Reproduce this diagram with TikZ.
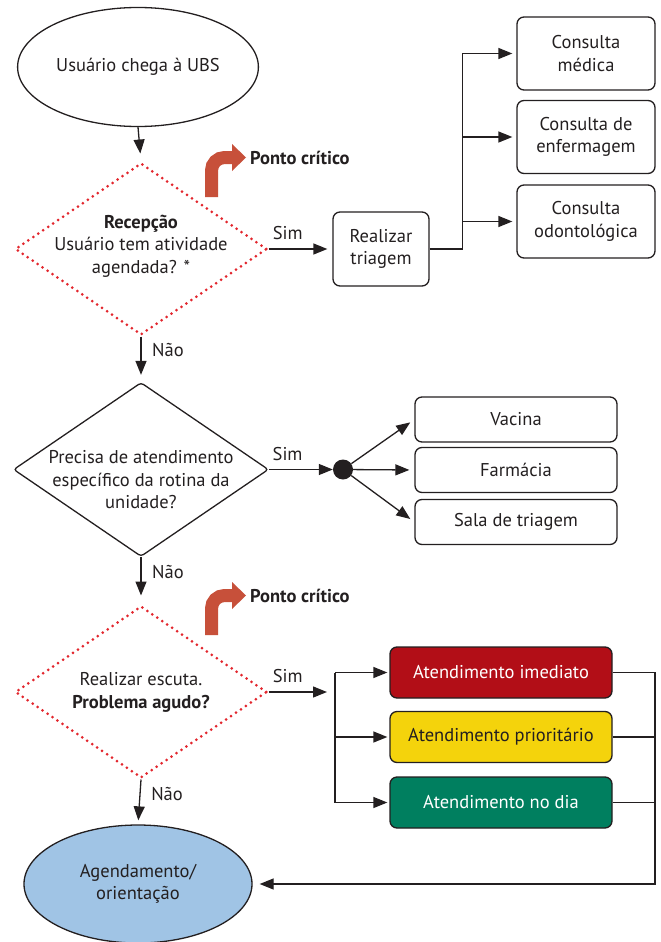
\documentclass[tikz,border=0pt]{standalone}
\usepackage{fontspec}
\setmainfont{PT Sans}
\usetikzlibrary{shapes.geometric,arrows.meta,calc}
\definecolor{ink}{RGB}{35,31,32}
\definecolor{dotred}{RGB}{226,38,45}
\definecolor{brick}{RGB}{199,80,58}
\definecolor{boxred}{RGB}{178,14,23}
\definecolor{boxyellow}{RGB}{244,211,12}
\definecolor{boxgreen}{RGB}{0,127,95}
\definecolor{endblue}{RGB}{160,196,229}
\begin{document}
\begin{tikzpicture}[x=1pt,y=-1pt,
  every node/.style={font=\fontsize{18.5}{22.5}\selectfont, text=ink},
  conn/.style={line width=1.3pt, draw=ink},
  arr/.style={conn, -{Triangle[length=14pt,width=11pt]}},
  box/.style={draw=ink, line width=1.3pt, rounded corners=7pt, align=center, inner sep=0pt},
  critdiam/.style={diamond, draw=dotred, line width=3pt, dash pattern=on 0pt off 6pt, line cap=round, minimum width=252pt, minimum height=172pt, inner sep=0pt},
  lbl/.style={inner sep=0pt},
  crit/.style={font=\bfseries\fontsize{18.5}{22.5}\selectfont, anchor=west, inner sep=0pt}
]
\useasboundingbox (0,0) rectangle (661,942);

% start
\node[ellipse, draw=ink, line width=1.3pt, minimum width=228pt, minimum height=119pt] (start) at (138,67) {Usuário chega à UBS};

% diamond 1
\node[critdiam] (d1) at (141,249) {};
\node[align=center, inner sep=0pt] (t1) at (141,246) {\textbf{Recepção}\\Usuário tem atividade\\agendada? *};

\node[box, minimum width=96pt, minimum height=74pt] (tri) at (381,249) {Realizar\\triagem};
\node[box, minimum width=138pt, minimum height=73pt] (cm) at (586,53.5) {Consulta\\médica};
\node[box, minimum width=138pt, minimum height=73pt] (ce) at (586,137) {Consulta de\\enfermagem};
\node[box, minimum width=138pt, minimum height=73pt] (co) at (586,221.5) {Consulta\\odontológica};

% ponto critico 1
\fill[brick] (232,144) -- (246,157.5) -- (232,171) -- cycle;
\draw[brick, line width=13pt, rounded corners=13pt] (211.5,197) |- (233,157.5);
\node[crit] (pc1) at (250,157.5) {Ponto crítico};

% diamond 2
\node[diamond, draw=ink, line width=1.3pt, minimum width=255pt, minimum height=174pt, inner sep=0pt, rounded corners=3pt] (d2) at (141,469.5) {};
\node[align=center, inner sep=0pt] (t2) at (141,480) {Precisa de atendimento\\específico da rotina da\\unidade?};

\node[circle, fill=ink, minimum size=20pt, inner sep=0pt] (dot) at (343,469.5) {};
\node[box, minimum width=202pt, minimum height=45pt] (vac) at (516,419.5) {Vacina};
\node[box, minimum width=202pt, minimum height=45pt] (far) at (516,470) {Farmácia};
\node[box, minimum width=202pt, minimum height=45pt] (sala) at (516,522) {Sala de triagem};

% ponto critico 2
\fill[brick] (232,582) -- (246,595.5) -- (232,609) -- cycle;
\draw[brick, line width=13pt, rounded corners=13pt] (211.5,635) |- (233,595.5);
\node[crit] (pc2) at (250,595.5) {Ponto crítico};

% diamond 3
\node[critdiam] (d3) at (141,692) {};
\node[align=center, inner sep=0pt] (t3) at (141,692.5) {Realizar escuta.\\\textbf{Problema agudo?}};

\node[box, fill=boxred, text=white, minimum width=222pt, minimum height=51pt] (ai) at (501,672.5) {Atendimento imediato};
\node[box, fill=boxyellow, minimum width=222pt, minimum height=51pt] (ap) at (501,737) {Atendimento prioritário};
\node[box, fill=boxgreen, text=white, minimum width=222pt, minimum height=51pt] (an) at (501,802.5) {Atendimento no dia};

% end
\node[ellipse, draw=ink, fill=endblue, line width=1.3pt, minimum width=228pt, minimum height=118pt, align=center] (end) at (138,884) {Agendamento/\\orientação};

% connectors
\draw[arr, shorten >=8pt] (start.south) -- (d1.north);
\draw[arr, shorten >=5pt] (d1.east) -- node[lbl, pos=0.3, yshift=16pt] {Sim} (tri.west);
\coordinate (br1) at ($(tri.east)+(33,0)$);
\draw[conn] (tri.east) -- (br1);
\draw[arr, shorten >=4pt] (br1) |- (cm.west);
\draw[arr, shorten >=4pt] (br1) |- (ce.west);
\draw[arr, shorten >=4pt] (br1) |- (co.west);

\draw[arr, shorten >=7pt] (d1.south) -- node[lbl, pos=0.29, xshift=27pt] {Não} (d2.north);
\draw[arr] (d2.east) -- node[lbl, pos=0.29, yshift=15pt] {Sim} (dot);
\draw[arr, shorten >=5pt] (dot) -- (vac.west);
\draw[arr, shorten >=5pt] (dot) -- (far.west);
\draw[arr, shorten >=5pt] (dot) -- (sala.west);

\draw[arr, shorten >=9pt] (d2.south) -- node[lbl, pos=0.31, xshift=27pt] {Não} (d3.north);
\coordinate (in3) at (327,692);
\draw[arr] (d3.east) -- node[lbl, pos=0.33, yshift=16pt] {Sim} (in3);
\coordinate (br3) at (335,737);
\draw[conn] (br3 |- ai.west) -- (br3 |- an.west);
\draw[arr, shorten >=2pt] (br3 |- ai.west) -- (ai.west);
\draw[arr, shorten >=2pt] (br3 |- ap.west) -- (ap.west);
\draw[arr, shorten >=2pt] (br3 |- an.west) -- (an.west);

\coordinate (ret) at (655,884);
\draw[conn] (ap.east) -- (ap.east -| ret);
\draw[conn] (an.east) -- (an.east -| ret);
\draw[arr, shorten >=7pt] (ai.east) -| (ret) -- (end.east);

\draw[arr, shorten >=4pt] (d3.south) -- node[lbl, pos=0.32, xshift=27pt] {Não} (end.north);
\end{tikzpicture}
\end{document}
